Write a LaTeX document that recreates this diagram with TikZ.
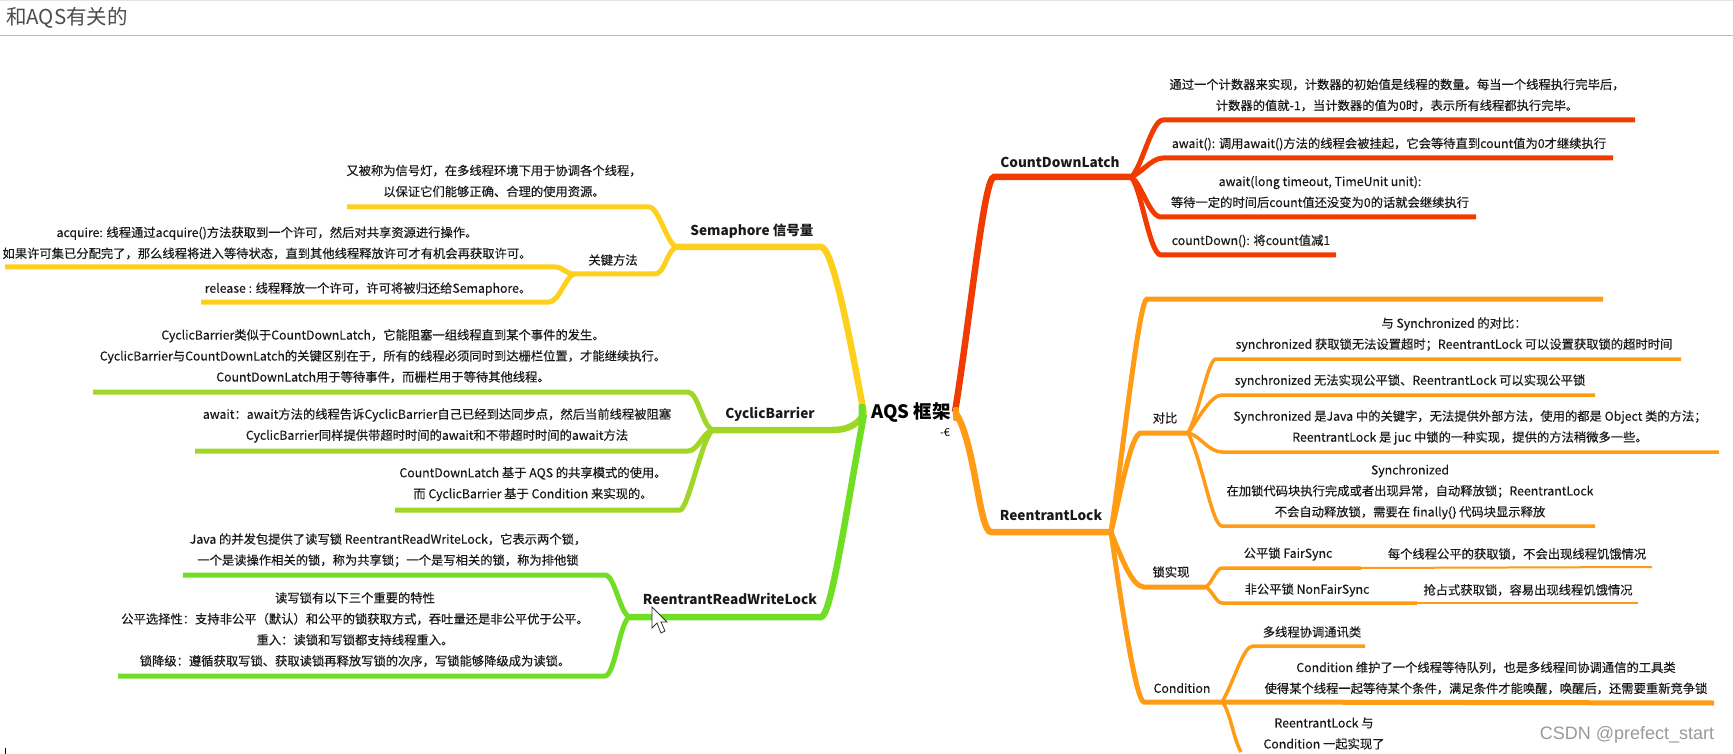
\documentclass[tikz,border=0pt]{standalone}
\usepackage{fontspec}
\setmainfont{Noto Sans CJK SC}
\newfontfamily\leaffont{Noto Sans CJK SC}[FakeBold=0.3]
\newfontfamily\markfont{Liberation Sans}
\definecolor{hdrgrey}{RGB}{190,190,190}
\definecolor{semayellow}{RGB}{254,208,30}
\definecolor{cycliclime}{RGB}{160,214,40}
\definecolor{rwgreen}{RGB}{112,222,36}
\definecolor{latchred}{RGB}{240,60,0}
\definecolor{lockorange}{RGB}{255,155,20}
\tikzset{
  leaf/.style={font=\leaffont\fontsize{12.3}{21}\selectfont,align=center,inner sep=0pt,text=black!90},
  topic/.style={font=\fontsize{13.6}{16}\selectfont\bfseries,inner sep=0pt,text=black!90},
  main/.style={line width=6.5pt},
  sub/.style={line width=5pt},
  thin sub/.style={line width=3.5pt},
  tail/.style={line width=2pt}
}
\begin{document}
\begin{tikzpicture}[x=1pt,y=-1pt]
\useasboundingbox (0,0) rectangle (1733,754);
\node[inner sep=0pt,font=\fontsize{20.5}{22}\selectfont,text=black!70] (title) at (67,18) {和AQS有关的};
\coordinate (hdrL) at (0,35.5);
\coordinate (hdrR) at (1733,35.5);
\draw[hdrgrey,line width=1pt] (hdrL) -- (hdrR);
\coordinate (topL) at (0,0.5);
\coordinate (topR) at (1733,0.5);
\draw[black!10,line width=1pt] (topL) -- (topR);
%
\coordinate (hubL) at (864,414);
\coordinate (hubR) at (955,412);
\node[inner sep=0pt,font=\fontsize{18.5}{20}\selectfont\bfseries] (aqs) at (911,413) {AQS 框架};
\node[inner sep=0pt,font=\fontsize{11}{12}\selectfont] (aqsMark) at (945,433) {-€};
%
% yellow
%
\coordinate (semaE) at (821,247); \coordinate (semaJ) at (677,247);
\coordinate (semaA) at (649,207); \coordinate (semaB) at (347,207);
\coordinate (keyE) at (655,274); \coordinate (keyJ) at (574,274);
\coordinate (acqA) at (555,267); \coordinate (acqB) at (5,267);
\coordinate (relA) at (549,302); \coordinate (relB) at (201,302);
\draw[semayellow,main] (hubL) .. controls +(-19,-104) and +(10,0) .. (semaE) -- (semaJ);
\draw[semayellow,sub] (semaJ) .. controls +(-10,-2) and +(10,0) .. (semaA) -- (semaB);
\draw[semayellow,sub] (semaJ) .. controls +(-10,2) and +(10,0) .. (keyE) -- (keyJ);
\draw[semayellow,sub] (keyJ) .. controls +(-8,0) and +(8,0) .. (acqA) -- (acqB);
\draw[semayellow,sub] (keyJ) .. controls +(-8,2) and +(10,0) .. (relA) -- (relB);
\node[topic] (sema) at (752,231) {Semaphore 信号量};
\node[leaf] (semaT) at (494,181) {又被称为信号灯，在多线程环境下用于协调各个线程，\\以保证它们能够正确、合理的使用资源。};
\node[leaf] (key) at (613,260) {关键方法};
\node[leaf] (acq) at (267,243) {acquire: 线程通过acquire()方法获取到一个许可，然后对共享资源进行操作。\\如果许可集已分配完了，那么线程将进入等待状态，直到其他线程释放许可才有机会再获取许可。};
\node[leaf] (rel) at (368,289) {release : 线程释放一个许可，许可将被归还给Semaphore。};
%
% lime
%
\coordinate (cycE) at (832,430); \coordinate (cycJ) at (713,430);
\coordinate (cycA) at (688,392); \coordinate (cycB) at (93,392);
\coordinate (awaA) at (688,451); \coordinate (awaB) at (195,451);
\coordinate (cdlA) at (680,510); \coordinate (cdlB) at (395,510);
\draw[cycliclime,main] (hubL) .. controls +(-8,14) and +(10,0) .. (cycE) -- (cycJ);
\draw[cycliclime,sub] (cycJ) .. controls +(-10,-2) and +(10,0) .. (cycA) -- (cycB);
\draw[cycliclime,sub] (cycJ) .. controls +(-10,2) and +(10,0) .. (awaA) -- (awaB);
\draw[cycliclime,sub] (cycJ) .. controls +(-10,4) and +(8,0) .. (cdlA) -- (cdlB);
\node[topic] (cyc) at (770,414) {CyclicBarrier};
\node[leaf] (cycT) at (383,356) {CyclicBarrier类似于CountDownLatch，它能阻塞一组线程直到某个事件的发生。\\CyclicBarrier与CountDownLatch的关键区别在于，所有的线程必须同时到达栅栏位置，才能继续执行。\\CountDownLatch用于等待事件，而栅栏用于等待其他线程。};
\node[leaf] (awaT) at (437,425.5) {await：await方法的线程告诉CyclicBarrier自己已经到达同步点，然后当前线程被阻塞\\CyclicBarrier同样提供带超时时间的await和不带超时时间的await方法};
\node[leaf] (cdlT) at (533,484) {CountDownLatch 基于 AQS 的共享模式的使用。\\而 CyclicBarrier 基于 Condition 来实现的。};
%
% green
%
\coordinate (rwE) at (821,617); \coordinate (rwJ) at (630,617);
\coordinate (rwA) at (605,575); \coordinate (rwB) at (183,575);
\coordinate (rwC) at (605,676); \coordinate (rwD) at (118,676);
\draw[rwgreen,main] (hubL) .. controls +(-19,104) and +(10,0) .. (rwE) -- (rwJ);
\draw[rwgreen,sub] (rwJ) .. controls +(-10,-2) and +(10,0) .. (rwA) -- (rwB);
\draw[rwgreen,sub] (rwJ) .. controls +(-10,2) and +(10,0) .. (rwC) -- (rwD);
\node[fill=rwgreen,inner sep=0pt,minimum width=7pt,minimum height=20pt,rounded corners=2pt] (hubLbox) at (862,414) {};
\node[topic] (rw) at (730,599) {ReentrantReadWriteLock};
\node[leaf] (rwT) at (388,550) {Java 的并发包提供了读写锁 ReentrantReadWriteLock，它表示两个锁，\\一个是读操作相关的锁，称为共享锁；一个是写相关的锁，称为排他锁};
\node[leaf] (rwF) at (355,629.5) {读写锁有以下三个重要的特性\\公平选择性：支持非公平（默认）和公平的锁获取方式，吞吐量还是非公平优于公平。\\重入：读锁和写锁都支持线程重入。\\锁降级：遵循获取写锁、获取读锁再释放写锁的次序，写锁能够降级成为读锁。};
%
% red
%
\coordinate (cntE) at (994,177); \coordinate (cntJ) at (1130,177);
\coordinate (cntA) at (1163,120); \coordinate (cntB) at (1635,120);
\coordinate (cntC) at (1163,158); \coordinate (cntD) at (1613,158);
\coordinate (cntF) at (1161,217); \coordinate (cntG) at (1476,217);
\coordinate (cntH) at (1161,255); \coordinate (cntI) at (1336,255);
\draw[latchred,main] (hubR) .. controls +(16,-100) and +(-10,0) .. (cntE) -- (cntJ);
\draw[latchred,sub] (cntJ) .. controls +(10,-2) and +(-12,0) .. (cntA) -- (cntB);
\draw[latchred,sub] (cntJ) .. controls +(10,-2) and +(-12,0) .. (cntC) -- (cntD);
\draw[latchred,sub] (cntJ) .. controls +(10,2) and +(-12,0) .. (cntF) -- (cntG);
\draw[latchred,sub] (cntJ) .. controls +(10,2) and +(-12,0) .. (cntH) -- (cntI);
\node[topic] (cnt) at (1060,162) {CountDownLatch};
\node[leaf] (cntT) at (1397,95) {通过一个计数器来实现，计数器的初始值是线程的数量。每当一个线程执行完毕后，\\计数器的值就-1，当计数器的值为0时，表示所有线程都执行完毕。};
\node[leaf] (cntW) at (1389,144) {await(): 调用await()方法的线程会被挂起，它会等待直到count值为0才继续执行};
\node[leaf] (cntL) at (1320,192) {await(long timeout, TimeUnit unit):\\等待一定的时间后count值还没变为0的话就会继续执行};
\node[leaf] (cntN) at (1251,241) {countDown(): 将count值减1};
%
% orange
%
\coordinate (lockE) at (991,532); \coordinate (lockJ) at (1111,532);
\coordinate (emptyA) at (1147,299); \coordinate (emptyB) at (1603,299);
\coordinate (cmpE) at (1141,433); \coordinate (cmpJ) at (1188,433);
\coordinate (cmpA) at (1216,359); \coordinate (cmpB) at (1681,359);
\coordinate (cmpC) at (1222,395); \coordinate (cmpD) at (1595,395);
\coordinate (cmpF) at (1222,452); \coordinate (cmpG) at (1719,452);
\coordinate (cmpH) at (1222,526); \coordinate (cmpI) at (1595,526);
\coordinate (impE) at (1144,587); \coordinate (impJ) at (1205,587);
\coordinate (impA) at (1222,568); \coordinate (impM) at (1361,568); \coordinate (impB) at (1652,567);
\coordinate (impC) at (1222,603); \coordinate (impN) at (1417,603); \coordinate (impD) at (1638,603);
\coordinate (condE) at (1144,702); \coordinate (condJ) at (1222,702);
\coordinate (condA) at (1253,646); \coordinate (condB) at (1365,646);
\coordinate (condC) at (1714,703); \coordinate (condD) at (1241,752);
\draw[lockorange,main] (hubR) .. controls +(20,28) and +(-12,0) .. (lockE) -- (lockJ);
\draw[lockorange,sub] (lockJ) .. controls +(12,-80) and +(-8,0) .. (emptyA) -- (emptyB);
\draw[lockorange,sub] (lockJ) .. controls +(10,-40) and +(-10,0) .. (cmpE) -- (cmpJ);
\draw[lockorange,thin sub] (cmpJ) .. controls +(12,-23) and +(-8,0) .. (cmpA) -- (cmpB);
\draw[lockorange,thin sub] (cmpJ) .. controls +(8,-10) and +(-12,0) .. (cmpC) -- (cmpD);
\draw[lockorange,thin sub] (cmpJ) .. controls +(12,2) and +(-14,0) .. (cmpF) -- (cmpG);
\draw[lockorange,thin sub] (cmpJ) .. controls +(15,30) and +(-10,0) .. (cmpH) -- (cmpI);
\draw[lockorange,sub] (lockJ) .. controls +(10,25) and +(-12,0) .. (impE) -- (impJ);
\draw[lockorange,thin sub] (impJ) .. controls +(6,-1) and +(-6,0) .. (impA) -- (impM);
\draw[lockorange,tail] (impM) -- (impB);
\draw[lockorange,thin sub] (impJ) .. controls +(6,1) and +(-6,0) .. (impC) -- (impN);
\draw[lockorange,tail] (impN) -- (impD);
\draw[lockorange,sub] (lockJ) .. controls +(10,70) and +(-8,0) .. (condE) -- (condJ);
\draw[lockorange,thin sub] (condJ) .. controls +(12,-20) and +(-10,0) .. (condA) -- (condB);
\draw[lockorange,sub] (condJ) -- (condC);
\draw[lockorange,thin sub] (condJ) .. controls +(8,8) and +(-8,-14) .. (condD);
\node[fill=lockorange,inner sep=0pt,minimum width=6pt,minimum height=14pt,rounded corners=2pt] (hubRbox) at (956,414) {};
\node[topic] (lock) at (1051,515) {ReentrantLock};
\node[leaf] (cmp) at (1165,418) {对比};
\node[leaf] (cmpT) at (1454,334.5) {与 Synchronized 的对比：\\synchronized 获取锁无法设置超时；ReentrantLock 可以设置获取锁的超时时间};
\node[leaf] (cmpU) at (1410,381) {synchronized 无法实现公平锁、ReentrantLock 可以实现公平锁};
\node[leaf] (cmpV) at (1470,427.5) {Synchronized 是Java 中的关键字，无法提供外部方法，使用的都是 Object 类的方法；\\ReentrantLock 是 juc 中锁的一种实现，提供的方法稍微多一些。};
\node[leaf] (cmpW) at (1410,492) {Synchronized\\在加锁代码块执行完成或者出现异常，自动释放锁；ReentrantLock\\不会自动释放锁，需要在 finally\{\} 代码块显示释放};
\node[leaf] (imp) at (1171,572) {锁实现};
\node[leaf] (fair) at (1288,554) {公平锁 FairSync};
\node[leaf] (fairT) at (1517,554) {每个线程公平的获取锁，不会出现线程饥饿情况};
\node[leaf] (nfair) at (1307,590) {非公平锁 NonFairSync};
\node[leaf] (nfairT) at (1528,590) {抢占式获取锁，容易出现线程饥饿情况};
\node[leaf] (cond) at (1182,688) {Condition};
\node[leaf] (condT) at (1312,632) {多线程协调通讯类};
\node[leaf] (condU) at (1486,678) {Condition 维护了一个线程等待队列，也是多线程间协调通信的工具类\\使得某个线程一起等待某个条件，满足条件才能唤醒，唤醒后，还需要重新竞争锁};
\node[leaf] (condV) at (1324,733.5) {ReentrantLock 与\\Condition 一起实现了};
%
\node[inner sep=0pt,font=\markfont\fontsize{18}{20}\selectfont,text=black!40] (mark) at (1627,735) {CSDN @prefect\_start};
%
% cursor and the tick at the bottom
%
\draw[black!80,fill=white,line width=0.8pt] (652,607) -- (652,628) -- (657,623) -- (661,633) -- (665,631) -- (661,622) -- (667,622) -- cycle;
\coordinate (tickT) at (5,748);
\coordinate (tickB) at (5,754);
\draw[black,line width=1pt] (tickT) -- (tickB);
\end{tikzpicture}
\end{document}
